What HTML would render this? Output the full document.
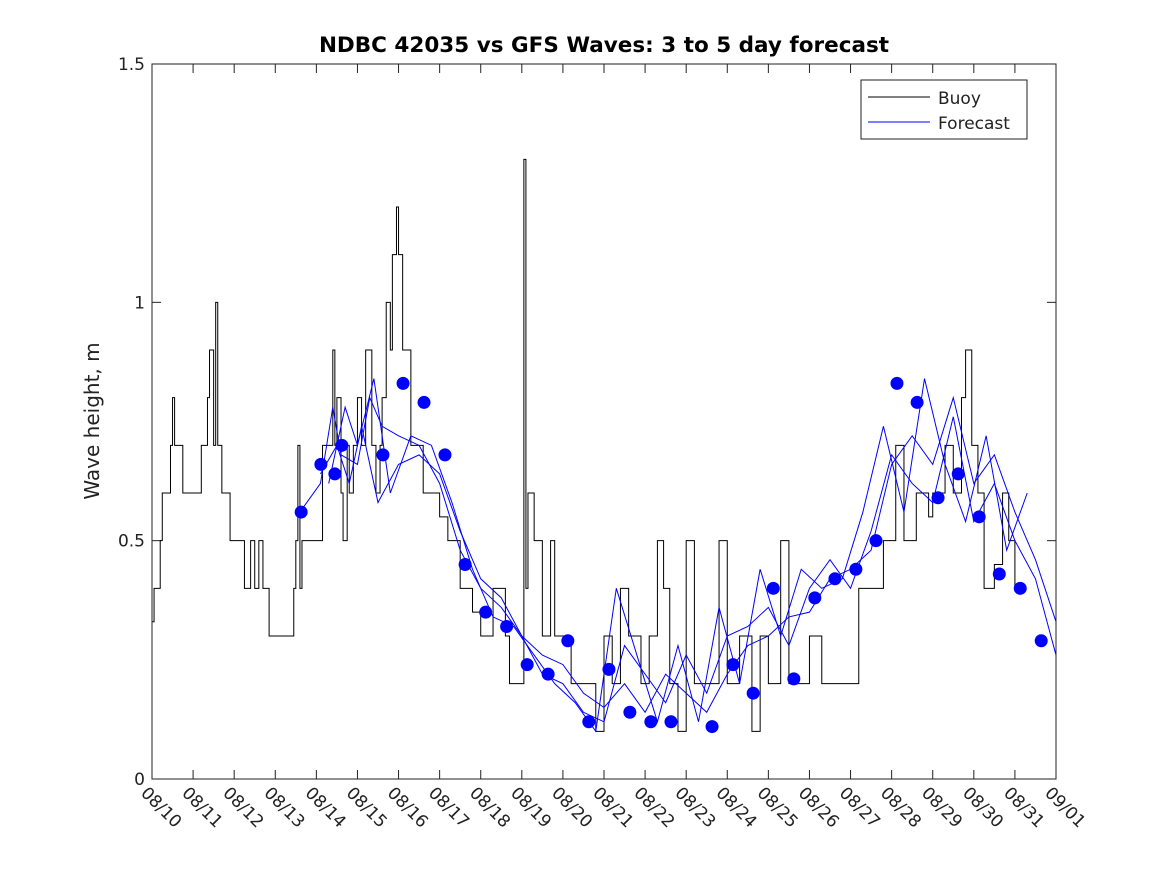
<!DOCTYPE html>
<html><head><meta charset="utf-8"><style>
body{margin:0;background:#fff;}
svg text{font-family:"DejaVu Sans","Liberation Sans",sans-serif;}
</style></head><body>
<svg id="chart" width="1167" height="875" xmlns="http://www.w3.org/2000/svg">
<rect x="0" y="0" width="1167" height="875" fill="#fff"/>
<text x="604" y="52" text-anchor="middle" font-size="21.5" font-weight="bold">NDBC 42035 vs GFS Waves: 3 to 5 day forecast</text>
<text transform="translate(99,421) rotate(-90)" text-anchor="middle" font-size="20" fill="#222">Wave height, m</text>
<g id="grid"></g>
<g id="series"></g>
<rect x="152" y="64" width="904" height="715" fill="none" stroke="#222" stroke-width="1"/>
<g>
<rect x="861" y="80" width="166" height="59" fill="#fff" stroke="#222"/>
<line x1="868" y1="97" x2="930" y2="97" stroke="#000"/>
<text x="938" y="104" font-size="17" fill="#222">Buoy</text>
<line x1="868" y1="122" x2="930" y2="122" stroke="#00f"/>
<text x="938" y="129" font-size="17" fill="#222">Forecast</text>
</g>
</svg>
<script>
const xTickLabels=["08/10","08/11","08/12","08/13","08/14","08/15","08/16","08/17","08/18","08/19","08/20","08/21","08/22","08/23","08/24","08/25","08/26","08/27","08/28","08/29","08/30","08/31","09/01"];
const yTicks=[0,0.5,1,1.5];
const buoyT=[0,0.05,0.2,0.25,0.45,0.5,0.55,0.75,1.2,1.2,1.35,1.4,1.5,1.55,1.6,1.7,1.9,2.2,2.25,2.4,2.5,2.6,2.7,2.85,3.4,3.45,3.5,3.55,3.6,3.65,4.1,4.15,4.3,4.4,4.45,4.5,4.6,4.65,4.75,4.8,4.9,5.0,5.1,5.2,5.35,5.45,5.55,5.6,5.7,5.8,5.85,5.95,6.0,6.1,6.3,6.6,7.0,7.2,7.5,7.8,8.0,8.3,8.6,8.7,9.0,9.05,9.1,9.15,9.3,9.5,9.7,9.8,10.0,10.2,10.6,10.8,11.0,11.2,11.4,11.6,11.9,12.1,12.3,12.45,12.6,12.8,13.0,13.2,13.5,13.8,14.0,14.3,14.6,14.8,15.0,15.3,15.5,15.8,16.0,16.3,17.0,17.2,17.6,17.8,18.1,18.3,18.6,18.9,19.0,19.3,19.5,19.7,19.8,19.95,20.1,20.25,20.5,20.7,20.85,21.0,21.1];
const buoyV=[0.33,0.4,0.5,0.6,0.7,0.8,0.7,0.6,0.6,0.7,0.8,0.9,0.7,1.0,0.7,0.6,0.5,0.5,0.4,0.5,0.4,0.5,0.4,0.3,0.3,0.4,0.5,0.7,0.4,0.5,0.5,0.7,0.7,0.9,0.7,0.8,0.6,0.5,0.7,0.6,0.7,0.8,0.7,0.9,0.7,0.6,0.7,0.8,1.0,0.9,1.1,1.2,1.1,0.9,0.7,0.6,0.55,0.5,0.4,0.35,0.3,0.4,0.3,0.2,0.2,1.3,0.4,0.6,0.5,0.3,0.5,0.3,0.3,0.2,0.2,0.1,0.3,0.2,0.4,0.3,0.2,0.3,0.5,0.4,0.2,0.1,0.5,0.2,0.2,0.5,0.2,0.3,0.1,0.3,0.2,0.5,0.2,0.2,0.3,0.2,0.2,0.4,0.4,0.5,0.7,0.5,0.6,0.55,0.6,0.7,0.6,0.8,0.9,0.7,0.6,0.4,0.45,0.6,0.5,0.4,0.4];
const dotT=[3.63,4.11,4.62,4.45,5.62,6.11,6.62,7.13,7.62,8.12,8.63,9.13,9.64,10.12,10.63,11.12,11.63,12.14,12.63,13.63,14.14,14.63,15.12,15.62,16.13,16.62,17.13,17.62,18.13,18.62,19.13,19.62,20.13,20.62,21.13,21.64];
const dotV=[0.56,0.66,0.70,0.64,0.68,0.83,0.79,0.68,0.45,0.35,0.32,0.24,0.22,0.29,0.12,0.23,0.14,0.12,0.12,0.11,0.24,0.18,0.40,0.21,0.38,0.42,0.44,0.50,0.83,0.79,0.59,0.64,0.55,0.43,0.40,0.29];
const f1T=[3.6,4.1,4.4,4.6,5.0,5.3,5.6,6.0,6.5,7.0,7.5,8.0,8.5,9.0,9.5,10.0,10.5,11.0,11.5,12.0,12.5,13.0,13.5,14.0,14.5,15.0,15.5,16.0,16.5,17.0,17.5,18.0,18.5,19.0,19.5,20.0,20.5,21.0,21.5,22.0];
const f1V=[0.56,0.62,0.78,0.68,0.66,0.80,0.74,0.72,0.70,0.62,0.48,0.40,0.36,0.30,0.26,0.24,0.18,0.15,0.20,0.14,0.22,0.18,0.14,0.22,0.28,0.30,0.34,0.35,0.42,0.44,0.48,0.66,0.72,0.66,0.80,0.62,0.68,0.56,0.46,0.33];
const f2T=[4.1,4.5,4.8,5.1,5.5,6.0,6.5,7.0,7.5,8.0,8.5,9.0,9.5,10.0,10.5,11.0,11.5,12.0,12.5,13.0,13.5,14.0,14.5,15.0,15.5,16.0,16.5,17.0,17.5,18.0,18.5,19.0,19.5,20.0,20.5,21.0,21.5,22.0];
const f2V=[0.64,0.70,0.62,0.74,0.58,0.66,0.68,0.64,0.52,0.42,0.38,0.30,0.22,0.20,0.14,0.12,0.28,0.22,0.16,0.26,0.18,0.30,0.32,0.36,0.28,0.40,0.46,0.40,0.52,0.68,0.62,0.58,0.76,0.54,0.62,0.50,0.42,0.26];
const f3T=[4.3,4.7,5.0,5.4,5.8,6.3,6.8,7.3,7.8,8.3,8.8,9.3,9.8,10.3,10.8,11.3,11.8,12.3,12.8,13.3,13.8,14.3,14.8,15.3,15.8,16.3,16.8,17.3,17.8,18.3,18.8,19.3,19.8,20.3,20.8,21.3];
const f3V=[0.62,0.78,0.70,0.84,0.60,0.72,0.70,0.58,0.44,0.34,0.32,0.26,0.20,0.16,0.10,0.40,0.26,0.12,0.28,0.12,0.36,0.20,0.44,0.30,0.44,0.40,0.42,0.56,0.74,0.56,0.84,0.66,0.54,0.72,0.48,0.60];
const X0=152,X1=1056,Y0=779,Y1=64;
const xs=d=>X0+d*(X1-X0)/22;
const ys=v=>Y0-v*(Y0-Y1)/1.5;
const NS="http://www.w3.org/2000/svg";
const grid=document.getElementById('grid'),ser=document.getElementById('series');
function mk(tag,attrs,parent){const e=document.createElementNS(NS,tag);for(const k in attrs)e.setAttribute(k,attrs[k]);parent.appendChild(e);return e;}
xTickLabels.forEach((lab,i)=>{
  const x=xs(i);
  const t1=mk('line',{x1:x,y1:Y0,x2:x,y2:Y0-9,stroke:'#222'},grid);
  
  
  const t2=mk('line',{x1:x,y1:Y1,x2:x,y2:Y1+9,stroke:'#222'},grid);
  
  
  const tx=mk('text',{transform:`translate(${x-12},${Y0+15}) rotate(45)`,'font-size':'17',fill:'#222'},grid);
  tx.textContent=lab;
  
  
});
yTicks.forEach(v=>{
  const y=ys(v);
  const a=mk('line',{x1:X0,y1:y,x2:X0+9,y2:y,stroke:'#222'},grid);
  
  
  const b=mk('line',{x1:X1,y1:y,x2:X1-9,y2:y,stroke:'#222'},grid);
  
  
  const t=mk('text',{x:X0-7,y:y+6,'text-anchor':'end','font-size':'17',fill:'#222'},grid);
  t.textContent=String(v);
  
  
});
function poly(T,V,color,name,step){
  let pts=[];
  for(let i=0;i<T.length;i++){
    if(step&&i>0)pts.push(xs(T[i])+','+ys(V[i-1]));
    pts.push(xs(T[i])+','+ys(V[i]));
  }
  const p=mk('polyline',{points:pts.join(' '),fill:'none',stroke:color,'stroke-width':'1'},ser);
  
  
}
poly(buoyT,buoyV,'#000','buoy-line',true);
poly(f1T,f1V,'#00f','forecast-line-1',false);
poly(f2T,f2V,'#00f','forecast-line-2',false);
poly(f3T,f3V,'#00f','forecast-line-3',false);
dotT.forEach((t,i)=>{
  const c=mk('circle',{cx:xs(t),cy:ys(dotV[i]),r:6.5,fill:'#00f'},ser);
  
  
});
</script>
</body></html>
